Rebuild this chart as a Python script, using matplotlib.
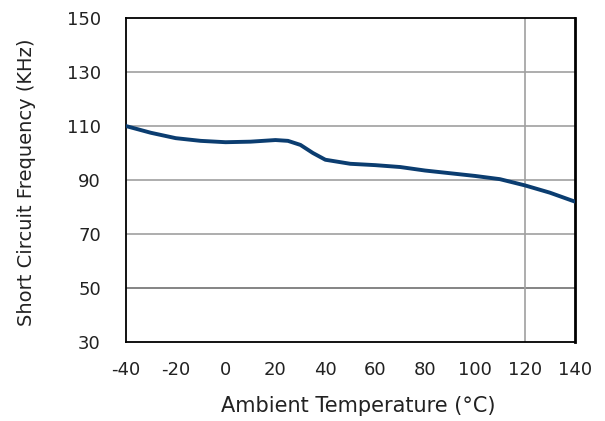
import matplotlib
matplotlib.use("Agg")
import matplotlib.pyplot as plt

temps = [-40, -30, -20, -10, 0, 10, 20, 25, 30, 35, 40, 50, 60, 70, 80, 90, 100, 110, 120, 130, 140]
freq = [110, 107.5, 105.5, 104.5, 104, 104.2, 104.8, 104.5, 103, 100, 97.5, 96, 95.5, 94.8,
        93.5, 92.5, 91.5, 90.3, 88, 85.3, 82]

x_ticks = [-40, -20, 0, 20, 40, 60, 80, 100, 120, 140]
y_ticks = [30, 50, 70, 90, 110, 130, 150]

plt.rcParams['font.family'] = ['DejaVu Sans']
plt.rcParams['axes.unicode_minus'] = False

fig = plt.figure(figsize=(6.05, 4.21), dpi=100)
ax = fig.add_axes([0.208, 0.188, 0.742, 0.769])

for y in y_ticks[1:-1]:
    ax.axhline(y, color='#a0a0a0' if y != 50 else '#707070', linewidth=1.2, zorder=1)
ax.axvline(120, color='#a0a0a0', linewidth=1.2, zorder=1)

ax.plot(temps, freq, color='#0b3d70', linewidth=2.8, solid_capstyle='round',
        solid_joinstyle='round', zorder=3)

ax.set_xlim(-40, 140)
ax.set_ylim(30, 150)
ax.set_xticks(x_ticks)
ax.set_yticks(y_ticks)
ax.tick_params(length=0, labelsize=13, colors='#222222')
ax.tick_params(axis='y', pad=18)
ax.tick_params(axis='x', pad=14)

for side in ['left', 'bottom', 'top']:
    ax.spines[side].set_linewidth(1.3)
ax.spines['right'].set_linewidth(2)

ax.set_xlabel('Ambient Temperature (°C)', fontsize=15, color='#222222')
ax.set_ylabel('Short Circuit Frequency (KHz)', fontsize=14, color='#222222')
ax.xaxis.set_label_coords(0.518, -0.168)
ax.yaxis.set_label_coords(-0.2, 0.494)

fig.savefig('out.png', dpi=100, facecolor='white')
